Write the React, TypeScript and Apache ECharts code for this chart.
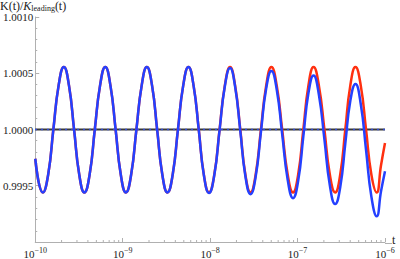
import React, { useEffect, useRef } from "react";
import * as echarts from "echarts";

// log10(t) sample positions
const logT = [-10.000, -9.912, -9.852, -9.793, -9.733, -9.673, -9.614, -9.556, -9.497, -9.438,
  -9.378, -9.319, -9.259, -9.199, -9.140, -9.081, -9.022, -8.963, -8.903, -8.843,
  -8.783, -8.724, -8.664, -8.606, -8.547, -8.488, -8.428, -8.368, -8.308, -8.248,
  -8.189, -8.130, -8.072, -8.013, -7.952, -7.892, -7.832, -7.772, -7.714, -7.655,
  -7.597, -7.538, -7.479, -7.419, -7.359, -7.299, -7.238, -7.176, -7.113, -7.052,
  -6.993, -6.934, -6.876, -6.817, -6.756, -6.693, -6.631, -6.570, -6.512, -6.454,
  -6.397, -6.338, -6.277, -6.217, -6.156, -6.095, -6.046, -6.000];

const redValues = [0.99974, 0.99944,
  0.9996, 1.0, 1.00039, 1.000555, 1.00039, 1.0, 0.9996, 0.99944,
  0.9996, 1.0, 1.00039, 1.000555, 1.00039, 1.0, 0.9996, 0.99944,
  0.9996, 1.0, 1.00039, 1.000555, 1.00039, 1.0, 0.9996, 0.99944,
  0.9996, 1.0, 1.00039, 1.000555, 1.00039, 1.0, 0.9996, 0.99944,
  0.9996, 1.0, 1.00039, 1.000555, 1.00039, 1.0, 0.9996, 0.99944,
  0.9996, 1.0, 1.00039, 1.000555, 1.00039, 1.0, 0.9996, 0.99944,
  0.9996, 1.0, 1.00039, 1.000555, 1.00039, 1.0, 0.9996, 0.99944,
  0.9996, 1.0, 1.00039, 1.000555, 1.00039, 1.0, 0.9996, 0.99944,
  0.99968, 0.99988];

const blueValues = [0.99974, 0.99944,
  0.9996, 1.0, 1.00039, 1.000555, 1.00039, 1.0, 0.9996, 0.99944,
  0.9996, 1.0, 1.00039, 1.000555, 1.00039, 1.0, 0.9996, 0.99944,
  0.9996, 1.0, 1.00039, 1.000555, 1.00039, 1.0, 0.9996, 0.99944,
  0.9996, 1.0, 1.00039, 1.000555,
  1.000388, 0.999997, 0.999596, 0.999436, 0.999595, 0.999994, 1.000382, 1.000546,
  1.000379, 0.999988, 0.999587, 0.999425, 0.999581, 0.999977, 1.000363, 1.000521,
  1.000354, 0.999959, 0.999554, 0.99939, 0.999544, 0.999938, 1.000322, 1.000481,
  1.000309, 0.999912, 0.999504, 0.999337, 0.999486, 0.999874, 1.000252, 1.000405,
  1.000225, 0.99982, 0.999404, 0.999228, 0.999448, 0.999629];

const baseT = [1e-10, 1e-6];
const baseValues = [1, 1];

const minorTicksT = [
  2e-10, 3e-10, 4e-10, 5e-10, 6e-10, 7e-10, 8e-10, 9e-10,
  2e-9, 3e-9, 4e-9, 5e-9, 6e-9, 7e-9, 8e-9, 9e-9,
  2e-8, 3e-8, 4e-8, 5e-8, 6e-8, 7e-8, 8e-8, 9e-8,
  2e-7, 3e-7, 4e-7, 5e-7, 6e-7, 7e-7, 8e-7, 9e-7,
];

const yMin = 0.999;
const yMax = 1.001;
const yStep = 0.0005;
const xMin = 1e-10;
const xMax = 1e-6;

const FONT = "'Liberation Serif', 'DejaVu Serif', serif";
const AXIS = "#b0b0b0";

export default function App() {
  const ref = useRef<HTMLDivElement>(null);
  useEffect(() => {
    if (!ref.current) return;
    document.body.style.margin = "0";
    const chart = echarts.init(ref.current, undefined, { renderer: "svg" });
    const red = logT.map((l, i) => [Math.pow(10, l), redValues[i]]);
    const blue = logT.map((l, i) => [Math.pow(10, l), blueValues[i]]);
    const base = baseT.map((t, i) => [t, baseValues[i]]);
    chart.setOption({
      animation: false,
      backgroundColor: "#fff",
      grid: { left: 34, right: 15, top: 17, bottom: 16, containLabel: false },
      xAxis: {
        type: "log",
        logBase: 10,
        min: xMin,
        max: xMax,
        axisLine: { show: true, lineStyle: { color: AXIS, width: 1 } },
        axisTick: { show: true, inside: true, length: 4, lineStyle: { color: AXIS } },
        splitLine: { show: false },
        axisLabel: {
          margin: 4,
          fontFamily: FONT,
          color: "#222",
          formatter: (v: number) => {
            const e = Math.round(Math.log10(v));
            return "{b|10}{s|\u2212" + Math.abs(e) + "}";
          },
          rich: {
            b: { fontSize: 11, fontFamily: FONT, color: "#222" },
            s: { fontSize: 8, fontFamily: FONT, color: "#222", padding: [0, 0, 7, 0] },
          },
        },
      },
      yAxis: {
        type: "value",
        min: yMin,
        max: yMax,
        interval: yStep,
        axisLine: { show: true, lineStyle: { color: AXIS, width: 1 } },
        axisTick: { show: true, inside: true, length: 4, lineStyle: { color: AXIS } },
        minorTick: { show: true, splitNumber: 5, length: 2, lineStyle: { color: AXIS } },
        splitLine: { show: false },
        axisLabel: {
          margin: 2,
          fontFamily: FONT,
          fontSize: 11,
          color: "#222",
          formatter: (v: number) => (Math.abs(v - yMin) < 1e-9 ? "" : v.toFixed(4)),
        },
      },
      graphic: [
        {
          type: "text",
          left: 0,
          top: 0,
          style: {
            text: "{n|K(t)/}{i|K}{sub|leading}{n|(t)}",
            rich: {
              n: { fontSize: 12, fontFamily: FONT, fill: "#222" },
              i: { fontSize: 12, fontFamily: FONT, fontStyle: "italic", fill: "#222" },
              sub: { fontSize: 8, fontFamily: FONT, fill: "#222", padding: [4, 0, 0, 0] },
            },
          },
        },
        {
          type: "text",
          left: 392,
          top: 234,
          style: { text: "t", fontSize: 12, fontFamily: FONT, fill: "#222" },
        },
        {
          type: "line",
          shape: { x1: 385, y1: 243.5, x2: 392, y2: 243.5 },
          style: { stroke: AXIS, lineWidth: 1 },
        },
      ],
      series: [
        {
          type: "custom",
          coordinateSystem: "cartesian2d",
          data: minorTicksT.map((t) => [t, yMin]),
          renderItem: (params: any, api: any) => {
            const p = api.coord([api.value(0), api.value(1)]);
            return {
              type: "line",
              shape: { x1: p[0], y1: p[1], x2: p[0], y2: p[1] - 2 },
              style: { stroke: AXIS, lineWidth: 1 },
            };
          },
          silent: true,
          z: 1,
        },
        {
          type: "line",
          data: base,
          symbol: "none",
          lineStyle: { color: "#3a3a3a", width: 1.8 },
          z: 2,
        },
        {
          type: "line",
          data: base,
          symbol: "none",
          lineStyle: { color: "#3050ff", width: 1.6, type: [1.5, 4.5] },
          z: 3,
        },
        {
          type: "line",
          data: red,
          symbol: "none",
          smooth: 0.5,
          lineStyle: { color: "#ff3010", width: 2.5 },
          z: 4,
        },
        {
          type: "line",
          data: blue,
          symbol: "none",
          smooth: 0.5,
          lineStyle: { color: "#2440ff", width: 2.5 },
          z: 5,
        },
      ],
    });
    return () => chart.dispose();
  }, []);
  return <div ref={ref} style={{ width: 400, height: 259 }} />;
}
